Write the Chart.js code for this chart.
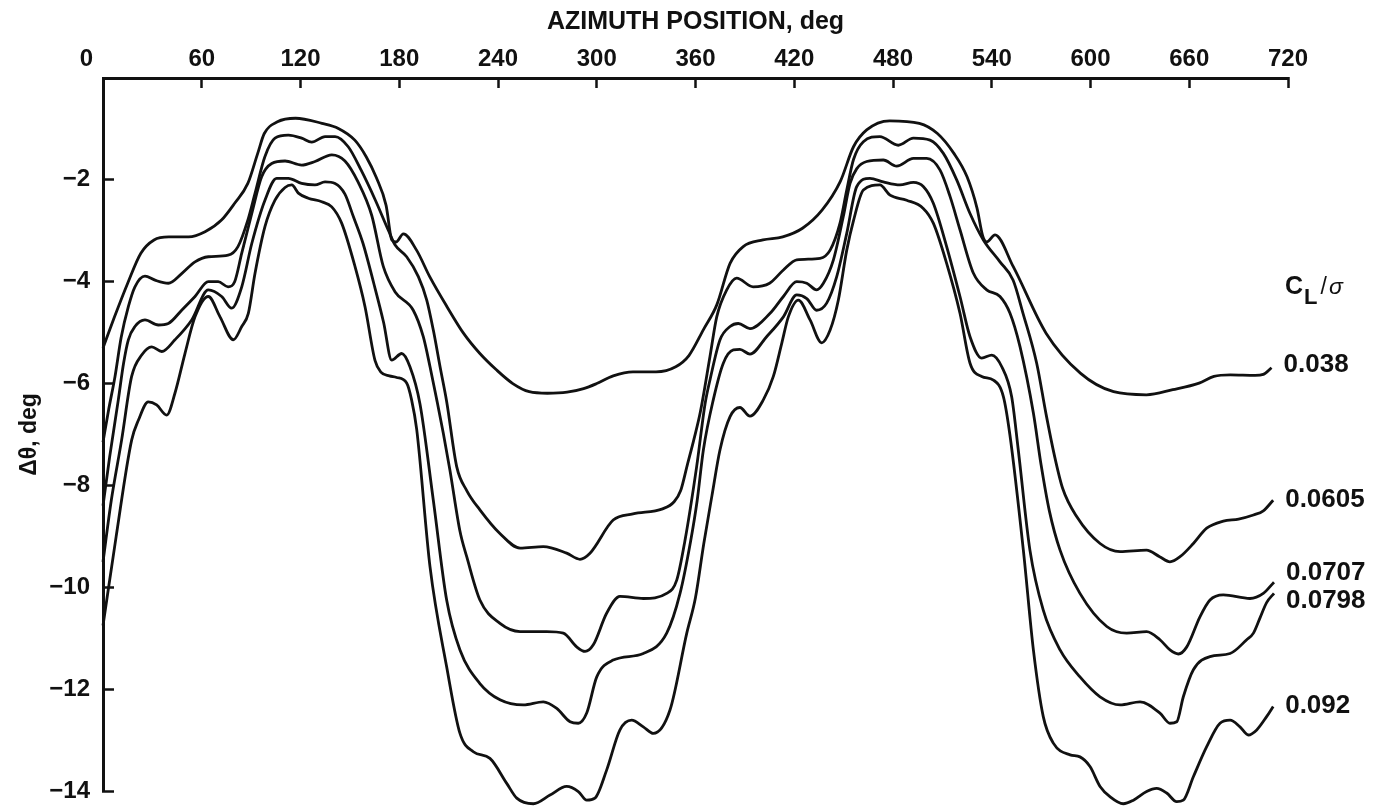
<!DOCTYPE html>
<html>
<head>
    <meta charset="utf-8">
    <style>
        body { margin: 0; background: #ffffff; }
        #wrap { width: 1387px; height: 809px; }
    </style>
    <script src="https://cdn.jsdelivr.net/npm/chart.js"></script>
</head>
<body>
<div id="wrap"><canvas id="pitchChart" width="1387" height="809"></canvas></div>
<script>
    // blade pitch change vs azimuth, one curve per C_L/sigma value
    const az038 = [0, 7, 15, 23, 31, 40, 52, 62, 72, 80, 88, 94, 98, 106, 117, 133, 143, 153, 160, 166,
        172, 175.5, 178, 182.5, 190.5, 198.5, 209, 219, 229, 239, 249, 259, 270, 282, 292, 300, 310, 322, 336, 348,
        356, 365, 373, 381, 389, 401, 413, 425, 437, 448, 456, 464, 478, 496, 507, 517, 525, 531, 534.5, 537,
        542, 553, 573, 594, 614, 634, 650, 666, 675, 685, 700, 705, 710];
    const dth038 = [-5.30, -4.69, -4.03, -3.44, -3.18, -3.12, -3.12, -3.02, -2.79, -2.46, -2.07, -1.48, -1.09, -0.86, -0.79, -0.89, -0.99, -1.22, -1.55, -1.95,
        -2.50, -3.18, -3.22, -3.06, -3.38, -3.90, -4.49, -5.01, -5.41, -5.73, -6.00, -6.16, -6.19, -6.17, -6.10, -6.00, -5.85, -5.77, -5.77, -5.67,
        -5.45, -4.93, -4.45, -3.64, -3.31, -3.18, -3.12, -2.95, -2.59, -2.03, -1.35, -1.02, -0.84, -0.89, -1.09, -1.48, -1.94, -2.55, -3.10, -3.22,
        -3.08, -3.70, -5.01, -5.80, -6.16, -6.22, -6.12, -5.99, -5.86, -5.83, -5.84, -5.82, -5.69];

    const az0605 = [0, 3.5, 7.3, 11, 15.4, 19.4, 25.5, 31.6, 39.7, 47.8, 55.9, 64, 76, 82, 88, 92.4, 98.4, 104.5, 112.6, 120.7,
        126.8, 134.9, 141, 149, 157, 165.5, 173.5, 177.5, 184.5, 191.6, 196.7, 200.7, 204.8, 208.8, 214.9, 221, 229, 241, 253.4, 267.5,
        281.7, 289.8, 295.9, 310, 322, 340, 347, 351, 355, 359, 363, 368.8, 372.9, 379, 385, 395, 405, 413.4, 421.5, 435.7,
        441.8, 447.8, 451.9, 456, 462, 472, 483.2, 492.4, 502.5, 510.6, 518.7, 526.8, 534.9, 545, 553, 559, 567.3, 573, 578, 583,
        591.6, 605.8, 618, 634, 642, 648.3, 654.4, 662.5, 670.6, 680.7, 690, 699, 705, 711];
    const dth0605 = [-7.15, -6.5, -5.86, -5.1, -4.49, -4.10, -3.89, -3.97, -4.03, -3.84, -3.61, -3.51, -3.48, -3.31, -2.79, -2.26, -1.54, -1.18, -1.12, -1.18,
        -1.26, -1.15, -1.15, -1.35, -1.82, -2.40, -3.00, -3.28, -3.51, -3.90, -4.36, -4.95, -5.67, -6.35, -7.63, -8.10, -8.48, -8.94, -9.23, -9.20,
        -9.33, -9.45, -9.33, -8.68, -8.56, -8.46, -8.32, -8.10, -7.60, -7.10, -6.55, -5.47, -4.69, -4.16, -3.93, -4.10, -4.03, -3.77, -3.57, -3.54,
        -3.38, -2.85, -2.20, -1.60, -1.25, -1.15, -1.32, -1.18, -1.22, -1.48, -2.00, -2.66, -3.18, -3.61, -3.97, -4.62, -5.60, -6.60, -7.40, -8.05,
        -8.61, -9.14, -9.30, -9.27, -9.40, -9.50, -9.40, -9.14, -8.84, -8.70, -8.66, -8.58, -8.50, -8.29];

    const az0707 = [0, 4, 9.3, 12.5, 15.4, 19.4, 25.5, 33.6, 39.7, 47.8, 55.9, 64, 70, 76, 80, 84.3, 90.4, 96.4, 102.5, 110.6,
        120.7, 128.8, 139, 147, 155.1, 163.3, 170.3, 177.5, 188.5, 194.6, 198.7, 202.8, 206.8, 210.8, 216.9, 221, 229, 241.2, 253.4, 269.6,
        279.7, 287.8, 292.9, 297.9, 306, 314.1, 328.3, 342.5, 348.6, 353.5, 360.7, 365.8, 369, 374.9, 381, 386, 393.1, 405.3, 413.4, 421.5,
        427.6, 433.6, 437.7, 443.8, 449.8, 453.9, 458, 464, 474.1, 482.2, 492.4, 500.5, 508.6, 514.7, 520.7, 528.8, 536.9, 545, 551.1, 557.2,
        565.3, 570, 575, 581.5, 593.6, 609.9, 622, 634.1, 642.2, 648.3, 653.4, 658.5, 666.5, 672.6, 680.7, 696.9, 705, 711.5];
    const dth0707 = [-8.40, -7.45, -6.32, -5.60, -5.14, -4.88, -4.75, -4.85, -4.82, -4.56, -4.29, -4.00, -4.00, -4.10, -4.00, -3.44, -2.66, -1.94, -1.68, -1.63,
        -1.71, -1.64, -1.51, -1.63, -2.05, -2.70, -3.70, -4.20, -4.56, -5.08, -5.67, -6.32, -6.98, -7.70, -8.90, -9.40, -10.25, -10.71, -10.87, -10.87,
        -10.90, -11.17, -11.26, -11.13, -10.51, -10.18, -10.22, -10.12, -9.86, -9.10, -7.63, -6.40, -5.90, -5.14, -4.88, -4.82, -4.92, -4.62, -4.29, -4.00,
        -4.03, -4.16, -4.03, -3.57, -2.72, -2.07, -1.78, -1.64, -1.61, -1.73, -1.58, -1.58, -1.81, -2.33, -2.98, -3.83, -4.16, -4.29, -4.62, -5.28,
        -6.58, -7.60, -8.50, -9.27, -10.12, -10.77, -10.90, -10.87, -11.03, -11.23, -11.31, -11.17, -10.58, -10.25, -10.15, -10.22, -10.12, -9.90];

    const az0798 = [0, 5, 11.3, 17.4, 23.5, 29.6, 35.7, 43.7, 53.9, 64, 72.1, 78.2, 84.3, 90.4, 98.4, 105.5, 112.6, 120.7, 128.8, 134.9,
        141, 147, 152.1, 158, 164.5, 170.5, 175.4, 181.5, 186.5, 192.6, 200.7, 208.8, 216.9, 229, 241.2, 255.4, 267.5, 275.7, 283.8, 288.8,
        293.9, 300, 310, 328.3, 342.5, 350.6, 357, 361, 364.8, 370.8, 376.9, 383, 387, 393.1, 403.2, 413.4, 421.5, 427.6, 433.6, 439.7,
        445.8, 451.9, 458, 466, 474.1, 484.2, 492.4, 498.4, 504.5, 512.6, 520.7, 526.8, 533.9, 540, 546.1, 552.1, 556, 563.2, 571.3, 581.5,
        593.6, 605.8, 618, 630.1, 642.2, 648.3, 652.4, 656.4, 662.5, 672.6, 684.8, 694.9, 699, 703, 707, 711.5];
    const dth0798 = [-9.50, -8.30, -7.11, -5.86, -5.44, -5.28, -5.37, -5.14, -4.75, -4.16, -4.29, -4.52, -4.10, -3.25, -2.40, -1.97, -1.97, -2.07, -2.10, -2.04,
        -2.07, -2.28, -2.72, -3.25, -4.03, -4.80, -5.54, -5.41, -5.67, -6.40, -8.29, -10.25, -11.23, -11.89, -12.21, -12.31, -12.25, -12.38, -12.64, -12.67,
        -12.47, -11.76, -11.43, -11.30, -10.90, -10.12, -9.10, -8.30, -7.30, -6.32, -5.60, -5.34, -5.33, -5.42, -5.08, -4.69, -4.26, -4.33, -4.56, -4.42,
        -3.90, -3.05, -2.13, -1.97, -2.04, -2.10, -2.05, -2.13, -2.46, -3.31, -4.29, -5.08, -5.50, -5.44, -5.67, -6.26, -7.27, -9.27, -10.45, -11.23,
        -11.76, -12.15, -12.31, -12.25, -12.47, -12.67, -12.64, -12.15, -11.62, -11.36, -11.30, -11.03, -10.90, -10.60, -10.30, -10.12];

    const az092 = [0, 8, 17.4, 21.5, 27.5, 32.6, 38.7, 43.7, 49.8, 55.9, 64, 71.1, 79.2, 84.3, 88.3, 92.4, 98.4, 104.5, 110.6, 114.7,
        118.7, 124.7, 132.9, 139, 145, 153.1, 159.2, 165.3, 169, 174, 178.4, 184.5, 187.5, 190.6, 198.7, 208.8, 216.9, 225, 235.1, 245.3,
        251.4, 261.5, 271.6, 281.7, 288.8, 293.9, 298.9, 306, 314.1, 321.2, 328.3, 334.4, 344.5, 354.7, 360, 365, 370, 374.9, 381, 387,
        393.1, 401.2, 407.3, 412.4, 416.4, 422.5, 429.6, 436.7, 441.8, 446.8, 451.9, 456, 462, 472, 478.2, 488.3, 498.4, 504.5, 512.6, 520.7,
        526.8, 533.9, 541, 547.1, 551, 559.2, 565.3, 571.3, 577.4, 587.6, 593.6, 599.7, 605.8, 611.8, 619.9, 626.1, 634.1, 640.2, 646.3, 652.4,
        656.4, 662.5, 670.6, 678.7, 684.8, 690.8, 695.9, 701, 707, 711];
    const dth092 = [-10.75, -9.00, -7.11, -6.72, -6.36, -6.42, -6.62, -6.19, -5.41, -4.69, -4.29, -4.69, -5.14, -4.88, -4.62, -3.83, -2.92, -2.40, -2.15, -2.10,
        -2.26, -2.36, -2.43, -2.53, -2.85, -3.70, -4.49, -5.55, -5.78, -5.85, -5.88, -5.99, -6.32, -6.90, -9.60, -11.56, -12.87, -13.23, -13.36, -13.85,
        -14.14, -14.25, -14.08, -13.91, -14.01, -14.18, -14.14, -13.59, -12.80, -12.61, -12.74, -12.87, -12.41, -10.90, -10.20, -9.15, -8.20, -7.30, -6.65, -6.47,
        -6.64, -6.32, -5.86, -5.21, -4.69, -4.36, -4.75, -5.20, -4.95, -4.36, -3.38, -2.80, -2.20, -2.10, -2.30, -2.40, -2.56, -2.85, -3.64, -4.62,
        -5.60, -5.86, -5.93, -6.26, -7.00, -9.27, -11.23, -12.54, -13.06, -13.29, -13.33, -13.52, -13.91, -14.11, -14.25, -14.18, -14.01, -13.95, -14.04, -14.21,
        -14.18, -13.72, -13.13, -12.67, -12.61, -12.74, -12.90, -12.80, -12.54, -12.34];

    const curveLabels = ['0.038', '0.0605', '0.0707', '0.0798', '0.092'];
    const azimuthTicks = [0, 60, 120, 180, 240, 300, 360, 420, 480, 540, 600, 660, 720];
    const dthetaTicks = [-2, -4, -6, -8, -10, -12, -14];

    const ink = '#111111';
    const family = '"Liberation Sans", Arial, Helvetica, sans-serif';

    const pairs = (xs, ys) => xs.map((x, i) => ({ x: x, y: ys[i] }));
    const series = [[az038, dth038], [az0605, dth0605], [az0707, dth0707], [az0798, dth0798], [az092, dth092]];

    // curve labels sit just past the end of each line; two of them are spread apart
    const labelNudge = [-3, 0, -9, 7, -1];

    const curveLabelPlugin = {
        id: 'curveLabels',
        afterDatasetsDraw(chart) {
            const ctx = chart.ctx;
            ctx.save();
            ctx.fillStyle = ink;
            ctx.font = 'bold 26px ' + family;
            ctx.textBaseline = 'middle';
            ctx.textAlign = 'left';
            chart.data.datasets.forEach((ds, i) => {
                const pts = chart.getDatasetMeta(i).data;
                const end = pts[pts.length - 1];
                ctx.fillText(ds.label, end.x + 12, end.y + labelNudge[i]);
            });

            // C_L / sigma heading above the labels
            const hx = chart.chartArea.right - 3;
            const hy = chart.scales.y.getPixelForValue(-4.25);
            ctx.textBaseline = 'alphabetic';
            ctx.font = 'bold 25px ' + family;
            ctx.fillText('C', hx, hy);
            let w = ctx.measureText('C').width + 1;
            ctx.font = 'bold 22px ' + family;
            ctx.fillText('L', hx + w, hy + 10);
            w += ctx.measureText('L').width + 3;
            ctx.font = '23px ' + family;
            ctx.fillText('/', hx + w, hy);
            w += ctx.measureText('/').width + 2;
            ctx.font = 'italic 23px ' + family;
            ctx.fillText('\u03c3', hx + w, hy);
            ctx.restore();
        }
    };

    new Chart(document.getElementById('pitchChart'), {
        type: 'line',
        data: {
            datasets: series.map((s, i) => ({
                label: curveLabels[i],
                data: pairs(s[0], s[1]),
                borderColor: ink,
                borderWidth: 2.8,
                pointRadius: 0,
                fill: false,
                clip: false,
                cubicInterpolationMode: 'monotone'
            }))
        },
        options: {
            responsive: false,
            devicePixelRatio: 1,
            animation: false,
            layout: { padding: { left: 0, top: 0, right: 99, bottom: 18 } },
            plugins: {
                legend: { display: false },
                tooltip: { enabled: false }
            },
            scales: {
                x: {
                    type: 'linear',
                    position: 'top',
                    min: 0,
                    max: 720,
                    afterBuildTicks: (scale) => { scale.ticks = azimuthTicks.map(v => ({ value: v })); },
                    afterFit: (scale) => {
                        scale.height = 78;
                        scale.paddingLeft = 0;
                        scale.paddingRight = 0;
                    },
                    ticks: {
                        autoSkip: false,
                        maxRotation: 0,
                        padding: 14,
                        color: ink,
                        font: { family: family, size: 24, weight: 'bold' },
                        // the zero sits left of the corner
                        callback: (v) => v === 0 ? '0     ' : String(v)
                    },
                    grid: { drawOnChartArea: false, drawTicks: true, tickLength: -10, tickWidth: 2.5, tickColor: ink },
                    border: { display: true, width: 3, color: ink },
                    title: {
                        display: true,
                        text: 'AZIMUTH POSITION, deg',
                        color: ink,
                        font: { family: family, size: 25, weight: 'bold' },
                        padding: { top: 7, bottom: 0 }
                    }
                },
                y: {
                    type: 'linear',
                    min: -14,
                    max: 0,
                    afterBuildTicks: (scale) => { scale.ticks = dthetaTicks.map(v => ({ value: v })); },
                    afterFit: (scale) => {
                        scale.width = 103;
                        // keep the end labels from shrinking the plot area
                        scale.paddingTop = 0;
                        scale.paddingBottom = 0;
                    },
                    ticks: {
                        padding: 24,
                        color: ink,
                        font: { family: family, size: 24, weight: 'bold' },
                        callback: (v) => '\u2212' + Math.abs(v)
                    },
                    grid: { drawOnChartArea: false, drawTicks: true, tickLength: -11, tickWidth: 2.5, tickColor: ink },
                    border: { display: true, width: 3, color: ink },
                    title: {
                        display: true,
                        text: '\u0394\u03b8, deg',
                        color: ink,
                        font: { family: family, size: 23, weight: 'bold' },
                        padding: { top: 16, bottom: 0 }
                    }
                }
            }
        },
        plugins: [curveLabelPlugin]
    });
</script>
</body>
</html>
